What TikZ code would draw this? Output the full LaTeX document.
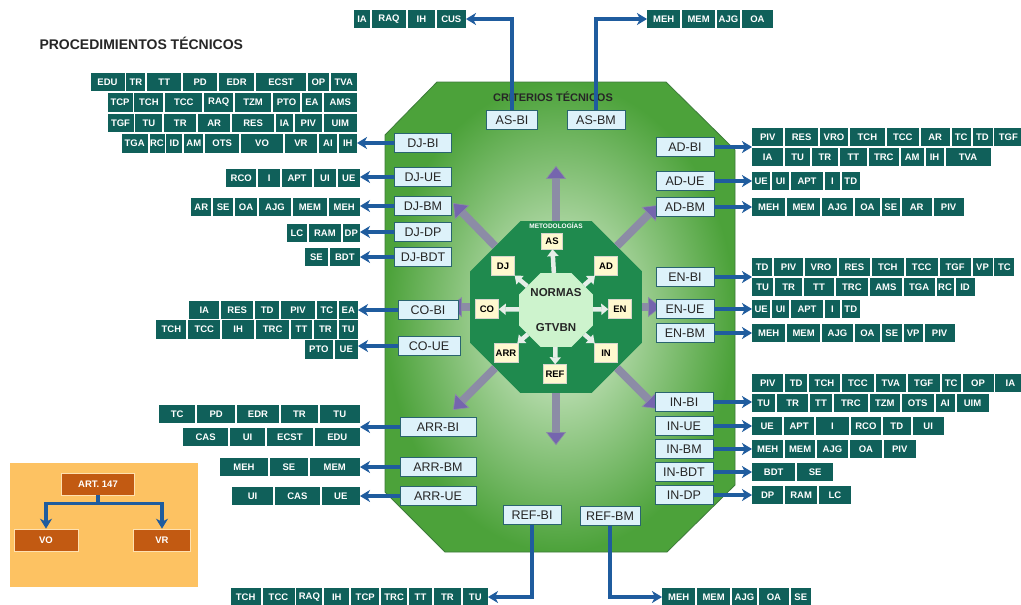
\documentclass[tikz,border=0pt]{standalone}
\usepackage{fontspec}
\setmainfont{Liberation Sans}
\usetikzlibrary{arrows.meta, positioning, shapes.geometric}
\definecolor{cTag}{HTML}{10605A}
\definecolor{cLabel}{HTML}{DDF2FA}
\definecolor{cLabelEdge}{HTML}{2A6470}
\definecolor{cLink}{HTML}{1F5C9E}
\definecolor{cOctEdge}{HTML}{3C7A3A}
\definecolor{cOctOut}{HTML}{4CA23A}
\definecolor{cOctIn}{HTML}{E2F3DC}
\definecolor{cMetod}{HTML}{1F8A4E}
\definecolor{cNormas}{HTML}{CDF3CD}
\definecolor{cBox}{HTML}{FFF9CF}
\definecolor{cBig}{HTML}{8C8CA6}
\definecolor{cBigHead}{HTML}{7565AE}
\definecolor{cSmall}{HTML}{E6EEE8}
\definecolor{cArtBg}{HTML}{FDC262}
\definecolor{cArt}{HTML}{C25A12}

% one row of tags, placed from the arrow outwards
\newcommand{\tagrow}[5]{%
  \coordinate (#1-0) at (#3,#4);
  \foreach \lbl/\w [count=\i, remember=\i as \j (initially 0)] in {#5}
    \node[tagbox, minimum width=\w pt, #2=1.5pt of #1-\j] (#1-\i) {\lbl};
}

\begin{document}
\begin{tikzpicture}[x=1pt, y=-1pt,
  tagbox/.style={fill=cTag, text=white, font=\bfseries\fontsize{9.5}{10}\selectfont, minimum height=18.5pt, inner sep=0pt},
  lbl/.style={fill=cLabel, draw=cLabelEdge, line width=0.9pt, minimum height=19pt, inner sep=1pt, font=\fontsize{12.5}{12}\selectfont, text=black!85},
  link/.style={draw=cLink, line width=3.2pt, -{Stealth[length=10pt, width=12pt, inset=3pt]}},
  bigarrow/.style={draw=cBig, line width=8pt, -{Triangle[length=13pt, width=20pt, fill=cBigHead, line width=0.6pt]}},
  smallarrow/.style={draw=cSmall, line width=4.5pt, -{Triangle[length=7pt, width=11pt]}},
  ybox/.style={fill=cBox, draw=cBox!60!black!40, line width=0.4pt, minimum width=23pt, minimum height=19pt, inner sep=1.5pt, font=\bfseries\fontsize{9.5}{10}\selectfont},
  artbox/.style={fill=cArt, draw=cArtBg!50!white, line width=0.6pt, text=white, minimum height=22pt, font=\bfseries\fontsize{9.5}{10}\selectfont},
]
\useasboundingbox (0,0) rectangle (1021,605);
\fill[white] (0,0) rectangle (1021,605);

\node[font=\bfseries\fontsize{14}{14}\selectfont, anchor=west, text=black!85] (title) at (36,43) {PROCEDIMIENTOS TÉCNICOS};

% criterios
\shadedraw[draw=cOctEdge, line width=0.8pt, inner color=cOctIn, outer color=cOctOut]
  (437,82) -- (666,82) -- (735,150) -- (735,485) -- (667,552) -- (445,552) -- (385,492) -- (385,135) -- cycle;
\node[font=\bfseries\fontsize{11}{11}\selectfont, text=black!85] (crit) at (553,97) {CRITERIOS TÉCNICOS};

% metodologias
\node[regular polygon, regular polygon sides=8, minimum size=186pt, fill=cMetod, inner sep=0pt] (metod) at (556,307) {};
\draw[bigarrow] (metod.north) -- ++(0,-55);
\draw[bigarrow] (metod.south) -- ++(0,52);
\draw[bigarrow] (metod.west) -- ++(-21,0);
\draw[bigarrow] (metod.east) -- ++(19,0);
\draw[bigarrow] (metod.135) -- ++(-42,-43);
\draw[bigarrow] (metod.45) -- ++(41,-41);
\draw[bigarrow] (metod.225) -- ++(-42,42);
\draw[bigarrow] (metod.315) -- ++(41,41);
\node[font=\bfseries\fontsize{6.5}{7}\selectfont, text=white] (metod-t) at (556,226) {METODOLOGÍAS};
\node[regular polygon, regular polygon sides=8, minimum size=80pt, fill=cNormas, inner sep=0pt] (normas) at (556,310) {};
\node[font=\bfseries\fontsize{11.5}{12}\selectfont, text=black!85] (normas-t) at (556,293) {NORMAS};
\node[font=\bfseries\fontsize{11.5}{12}\selectfont, text=black!85] (gtvbn) at (556,328) {GTVBN};

\node[ybox, minimum height=16pt, minimum width=21pt] (as) at (552,241) {AS};
\draw[smallarrow] (normas) -- (as);
\foreach \n/\t/\x/\y in {dj/DJ/503/266, ad/AD/606/266, co/CO/487/309,
    en/EN/620/309, arr/ARR/506/353, in/IN/606/353, ref/REF/555/374}{
  \node[ybox] (\n) at (\x,\y) {\t};
  \draw[smallarrow] (normas) -- (\n);
}

% labels
\foreach \n/\t/\x/\y/\w in {asbi/AS-BI/512/120/51, asbm/AS-BM/596/120/58,
    djbi/DJ-BI/423/143/57, djue/DJ-UE/423/177/57, djbm/DJ-BM/423/206/57, djdp/DJ-DP/423/232/57, djbdt/DJ-BDT/423/257/57,
    cobi/CO-BI/428/310/60, coue/CO-UE/429/346/62,
    arrbi/ARR-BI/438/427/76, arrbm/ARR-BM/438/467/76, arrue/ARR-UE/438/496/76,
    refbi/REF-BI/532/515/58, refbm/REF-BM/610/516/60,
    adbi/AD-BI/685/147/58, adue/AD-UE/685/181/58, adbm/AD-BM/685/207/58,
    enbi/EN-BI/685/277/58, enue/EN-UE/685/309/58, enbm/EN-BM/685/333/58,
    inbi/IN-BI/684/402/58, inue/IN-UE/684/426/58, inbm/IN-BM/684/449/58, inbdt/IN-BDT/684/472/58, indp/IN-DP/684/495/58}
  \node[lbl, minimum width=\w pt] (\n) at (\x,\y) {\t};

% tags, left side
\tagrow{djbi-a}{left}{358.5}{82}{TVA/26, OP/21, ECST/50, EDR/35, PD/34, TT/34, TR/19, EDU/34}
\tagrow{djbi-b}{left}{358.5}{102.5}{AMS/33, EA/20, PTO/27, TZM/36, RAQ/29, TCC/37, TCH/29, TCP/25}
\tagrow{djbi-c}{left}{358.5}{123}{UIM/33, PIV/27, IA/17, RES/42, AR/32, TR/32, TU/27, TGF/26}
\tagrow{djbi-d}{left}{358.5}{143.5}{IH/18, AI/18, VR/32, VO/42, OTS/34, AM/19, ID/16, RC/15, TGA/26}
\tagrow{djue-row}{left}{361.5}{178}{UE/22, UI/22, APT/30, I/22, RCO/30}
\tagrow{djbm-row}{left}{361.5}{207}{MEH/31, MEM/34, AJG/32, OA/22, SE/20, AR/20}
\tagrow{djdp-row}{left}{361.5}{233}{DP/17, RAM/32, LC/20}
\tagrow{djbdt-row}{left}{361.5}{257}{BDT/30, SE/23}
\tagrow{cobi-a}{left}{359.5}{310}{EA/19, TC/20, PIV/34, TD/24, RES/32, IA/30}
\tagrow{cobi-b}{left}{359.5}{329.5}{TU/19, TR/23, TT/21, TRC/33, IH/32, TCC/32, TCH/30}
\tagrow{coue-row}{left}{359.5}{349.5}{UE/23, PTO/28}
\tagrow{arrbi-a}{left}{361.5}{414}{TU/40, TR/37, EDR/42, PD/38, TC/36}
\tagrow{arrbi-b}{left}{361.5}{437}{EDU/45, ECST/46, UI/35, CAS/45}
\tagrow{arrbm-row}{left}{361.5}{467}{MEM/50, SE/38, MEH/48}
\tagrow{arrue-row}{left}{361.5}{496}{UE/38, CAS/45, UI/41}
\tagrow{refbi-row}{left}{489.5}{597}{TU/25, TR/27, TT/23, TRC/26, TCP/28, IH/25, RAQ/26, TCC/32, TCH/30}
\tagrow{asbi-row}{left}{467.5}{19}{CUS/29, IH/27, RAQ/34, IA/16}

% tags, right side
\tagrow{adbi-a}{right}{750.5}{137}{PIV/31, RES/33, VRO/28, TCH/35, TCC/32, AR/29, TC/19, TD/20, TGF/28}
\tagrow{adbi-b}{right}{750.5}{157}{IA/31, TU/25, TR/26, TT/27, TRC/30, AM/23, IH/18, TVA/45}
\tagrow{adue-row}{right}{750.5}{181}{UE/18, UI/17, APT/32, I/15, TD/18}
\tagrow{adbm-row}{right}{750.5}{207}{MEH/33, MEM/33, AJG/31, OA/25, SE/18, AR/30, PIV/30}
\tagrow{enbi-a}{right}{750.5}{267}{TD/20, PIV/29, VRO/32, RES/31, TCH/32, TCC/32, TGF/31, VP/20, TC/20}
\tagrow{enbi-b}{right}{750.5}{287}{TU/21, TR/27, TT/30, TRC/32, AMS/32, TGA/31, RC/17, ID/19}
\tagrow{enue-row}{right}{750.5}{309}{UE/18, UI/17, APT/32, I/15, TD/18}
\tagrow{enbm-row}{right}{750.5}{333}{MEH/33, MEM/33, AJG/31, OA/25, SE/20, VP/19, PIV/30}
\tagrow{inbi-a}{right}{750.5}{383}{PIV/31, TD/22, TCH/31, TCC/32, TVA/30, TGF/32, TC/19, OP/31, IA/30}
\tagrow{inbi-b}{right}{750.5}{403}{TU/23, TR/31, TT/22, TRC/34, TZM/30, OTS/32, AI/19, UIM/32}
\tagrow{inue-row}{right}{750.5}{426}{UE/30, APT/30, I/33, RCO/30, TD/28, UI/31}
\tagrow{inbm-row}{right}{750.5}{449}{MEH/31, MEM/30, AJG/31, OA/32, PIV/32}
\tagrow{inbdt-row}{right}{750.5}{472}{BDT/43, SE/36}
\tagrow{indp-row}{right}{750.5}{495}{DP/31, RAM/32, LC/32}
\tagrow{asbm-row}{right}{645.5}{19}{MEH/33, MEM/33, AJG/23, OA/31}
\tagrow{refbm-row}{right}{660.5}{597}{MEH/33, MEM/33, AJG/25, OA/30, SE/20}

% links
\foreach \a/\b in {djbi/djbi-d, djue/djue-row, djbm/djbm-row, djdp/djdp-row, djbdt/djbdt-row,
    cobi/cobi-a, coue/coue-row, arrbi/arrbi-a, arrbm/arrbm-row, arrue/arrue-row}
  \draw[link] (\a.west) -- (\a.west -| \b-1.east);
\foreach \a/\b in {adbi/adbi-b, adue/adue-row, adbm/adbm-row, enbi/enbi-b, enue/enue-row, enbm/enbm-row,
    inbi/inbi-b, inue/inue-row, inbm/inbm-row, inbdt/inbdt-row, indp/indp-row}
  \draw[link] (\a.east) -- (\a.east -| \b-1.west);
\draw[link] (asbi.north) |- (asbi-row-1.east);
\draw[link] (asbm.north) |- (asbm-row-1.west);
\draw[link] (refbi.south) |- (refbi-row-1.east);
\draw[link] (refbm.south) |- (refbm-row-1.west);

% art. 147
\fill[cArtBg] (10,463) rectangle (198,587);
\node[artbox, minimum width=73pt] (art) at (98,484) {ART. 147};
\node[artbox, minimum width=64pt] (vo) at (46,540) {VO};
\node[artbox, minimum width=57pt] (vr) at (162,540) {VR};
\draw[link] (art.south) -- ++(0,8) -| (vo.north);
\draw[link] (art.south) -- ++(0,8) -| (vr.north);
\end{tikzpicture}
\end{document}
